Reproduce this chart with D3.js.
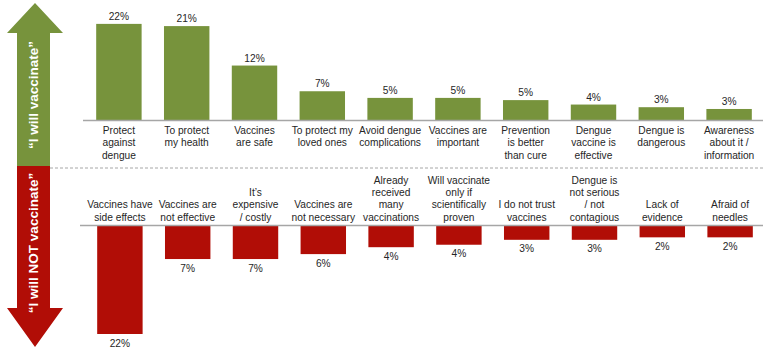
<!DOCTYPE html>
<html>
<head>
<meta charset="utf-8">
<script src="https://cdn.jsdelivr.net/npm/d3@7"></script>
<style>
  body { margin: 0; background: #fff; }
  svg { display: block; font-family: "Liberation Sans", Arial, sans-serif; }
</style>
</head>
<body>
<svg width="770" height="352"></svg>
<script>
// reasons given (top = will vaccinate, bottom = will NOT vaccinate)
const yesLabels = [
  ["Protect", "against", "dengue"],
  ["To protect", "my health"],
  ["Vaccines", "are safe"],
  ["To protect my", "loved ones"],
  ["Avoid dengue", "complications"],
  ["Vaccines are", "important"],
  ["Prevention", "is better", "than cure"],
  ["Dengue", "vaccine is", "effective"],
  ["Dengue is", "dangerous"],
  ["Awareness", "about it /", "information"]
];
const yesValues = [21.8, 21.3, 12.4, 6.6, 5.1, 5.1, 4.6, 3.6, 3.0, 2.6];

const noLabels = [
  ["Vaccines have", "side effects"],
  ["Vaccines are", "not effective"],
  ["It\u2019s", "expensive", "/ costly"],
  ["Vaccines are", "not necessary"],
  ["Already", "received", "many", "vaccinations"],
  ["Will vaccinate", "only if", "scientifically", "proven"],
  ["I do not trust", "vaccines"],
  ["Dengue is", "not serious", "/ not", "contagious"],
  ["Lack of", "evidence"],
  ["Afraid of", "needles"]
];
const noValues = [22.0, 6.8, 6.8, 5.8, 4.4, 3.9, 2.9, 2.9, 2.4, 2.4];

const green = "#77933c";
const red = "#b10d06";
const axisGrey = "#a6a6a6";
const textCol = "#262626";
const fontSize = 10.2;

const svg = d3.select("svg");

const x = d3.scaleBand()
  .domain(d3.range(10))
  .range([85, 763])
  .paddingInner(0.33)
  .paddingOuter(0.165);

const topBase = 120.5;
const botBase = 225.5;
const yTop = d3.scaleLinear().domain([0, 22]).range([topBase, topBase - 97.5]);
const yBot = d3.scaleLinear().domain([0, 22]).range([botBase, botBase + 108.5]);
const fmt = (v) => Math.round(v) + "%";
const lineH = 12.3;

// left arrow
const arrow = svg.append("g");
arrow.append("path")
  .attr("fill", green)
  .attr("d", "M35,3 L63,33 L50,33 L50,166 L17,166 L17,33 L7,33 Z");
arrow.append("path")
  .attr("fill", red)
  .attr("d", "M17,166 L50,166 L50,308 L63,308 L35,347 L7,308 L17,308 Z");
arrow.append("text")
  .attr("transform", "translate(38,95) rotate(-90)")
  .attr("text-anchor", "middle")
  .attr("fill", "#fff")
  .attr("font-weight", "bold")
  .attr("font-size", 13.5)
  .text("\u201CI will vaccinate\u201D");
arrow.append("text")
  .attr("transform", "translate(38,243) rotate(-90)")
  .attr("text-anchor", "middle")
  .attr("fill", "#fff")
  .attr("font-weight", "bold")
  .attr("font-size", 13.5)
  .text("\u201CI will NOT vaccinate\u201D");

// dashed separator
svg.append("line")
  .attr("x1", 50).attr("x2", 763)
  .attr("y1", 168).attr("y2", 168)
  .attr("stroke", axisGrey)
  .attr("stroke-dasharray", "3,2");

// top bars
svg.append("g").selectAll("rect")
  .data(yesValues)
  .join("rect")
  .attr("x", (d, i) => x(i))
  .attr("y", (d) => yTop(d))
  .attr("width", x.bandwidth())
  .attr("height", (d) => topBase - yTop(d))
  .attr("fill", green);

svg.append("g").selectAll("text")
  .data(yesValues)
  .join("text")
  .attr("x", (d, i) => x(i) + x.bandwidth() / 2)
  .attr("y", (d) => yTop(d) - 4)
  .attr("text-anchor", "middle")
  .attr("font-size", fontSize)
  .attr("fill", textCol)
  .text(fmt);

svg.append("line")
  .attr("x1", 83).attr("x2", 763)
  .attr("y1", topBase).attr("y2", topBase)
  .attr("stroke", axisGrey)
  .attr("stroke-width", 1.5);

const yesCat = svg.append("g").selectAll("text")
  .data(yesLabels)
  .join("text")
  .attr("text-anchor", "middle")
  .attr("font-size", fontSize)
  .attr("fill", textCol);
yesCat.each(function (lines, i) {
  d3.select(this).selectAll("tspan")
    .data(lines)
    .join("tspan")
    .attr("x", x(i) + x.bandwidth() / 2)
    .attr("y", (d, j) => 134 + j * lineH)
    .text((d) => d);
});

// bottom bars
svg.append("g").selectAll("rect")
  .data(noValues)
  .join("rect")
  .attr("x", (d, i) => x(i) + 1)
  .attr("y", botBase)
  .attr("width", x.bandwidth())
  .attr("height", (d) => yBot(d) - botBase)
  .attr("fill", red);

svg.append("g").selectAll("text")
  .data(noValues)
  .join("text")
  .attr("x", (d, i) => x(i) + 1 + x.bandwidth() / 2)
  .attr("y", (d) => yBot(d) + 12.5)
  .attr("text-anchor", "middle")
  .attr("font-size", fontSize)
  .attr("fill", textCol)
  .text(fmt);

svg.append("line")
  .attr("x1", 80).attr("x2", 763)
  .attr("y1", botBase).attr("y2", botBase)
  .attr("stroke", axisGrey)
  .attr("stroke-width", 1.5);

const noCat = svg.append("g").selectAll("text")
  .data(noLabels)
  .join("text")
  .attr("text-anchor", "middle")
  .attr("font-size", fontSize)
  .attr("fill", textCol);
noCat.each(function (lines, i) {
  const n = lines.length;
  d3.select(this).selectAll("tspan")
    .data(lines)
    .join("tspan")
    .attr("x", x(i) + 1 + x.bandwidth() / 2)
    .attr("y", (d, j) => 220.5 - (n - 1 - j) * lineH)
    .text((d) => d);
});
</script>
</body>
</html>
